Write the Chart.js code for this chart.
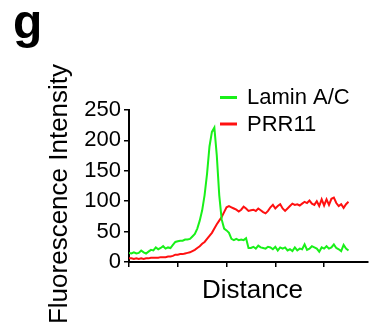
<!DOCTYPE html>
<html>
<head>
<meta charset="utf-8">
<script src="https://cdn.jsdelivr.net/npm/chart.js@4"></script>
<style>
html,body{margin:0;padding:0;background:#fff;}
#wrap{width:369px;height:327px;position:relative;}
</style>
</head>
<body>
<div id="wrap"><canvas id="c" width="369" height="327"></canvas></div>
<script>
const panelLabel = "g";
const xTitle = "Distance";
const yTitle = "Fluorescence Intensity";
const seriesNames = ["Lamin A/C", "PRR11"];
const yTicks = [0, 50, 100, 150, 200, 250];
const xTicks = [0, 1, 2, 3, 4];

const distance = [0,0.05,0.1,0.15,0.2,0.25,0.3,0.35,0.4,0.45,0.5,0.55,0.6,0.65,0.7,0.75,0.8,0.85,0.9,0.95,
1,1.05,1.1,1.15,1.2,1.25,1.3,1.35,1.4,1.45,1.5,1.55,1.6,1.65,1.7,1.75,1.8,1.85,1.9,1.95,
2,2.05,2.1,2.15,2.2,2.25,2.3,2.35,2.4,2.45,2.5,2.55,2.6,2.65,2.7,2.75,2.8,2.85,2.9,2.95,
3,3.05,3.1,3.15,3.2,3.25,3.3,3.35,3.4,3.45,3.5,3.55,3.6,3.65,3.7,3.75,3.8,3.85,3.9,3.95,
4,4.05,4.1,4.15,4.2,4.25,4.3,4.35,4.4,4.45,4.5];

const laminAC = [15,14,16,14,15,19,16,14,17,20,19,24,21,23,26,22,24,23,28,33,
34,35,35,37,37,38,42,46,55,68,85,110,145,190,214,221,175,110,70,55,
52,48,38,36,38,36,37,36,39,23,23,25,22,27,24,23,22,25,24,21,
25,19,24,22,24,19,21,18,24,19,22,21,29,20,22,26,24,22,17,24,
22,26,22,24,29,23,21,18,28,22,19];

const prr11 = [6,6,5,6,5,6,5,6,6,7,7,7,7,8,8,8,9,9,10,12,
12,13,13,14,15,16,18,20,23,26,30,33,38,43,48,55,62,68,74,82,
90,92,90,88,86,83,86,91,88,84,85,86,84,88,85,82,80,84,90,94,
88,92,95,88,84,88,92,96,94,95,93,96,99,97,101,96,94,100,92,103,
93,103,94,104,106,97,92,95,89,95,99];

const colors = ["#19f019", "#ff1010"];

function pts(xs, ys){ return xs.map((x,i)=>({x:x, y:ys[i]})); }

const FONT = "'Liberation Sans', Arial, sans-serif";

const customText = {
  id: 'customText',
  afterDraw(chart){
    const ctx = chart.ctx;
    const ca = chart.chartArea;
    ctx.save();
    ctx.fillStyle = '#000';
    // panel label
    ctx.font = "bold 48px " + FONT;
    ctx.textAlign = 'left';
    ctx.textBaseline = 'alphabetic';
    ctx.fillText(panelLabel, 13, 37.5);
    // x title
    ctx.font = "26px " + FONT;
    ctx.textAlign = 'center';
    ctx.fillText(xTitle, (ca.left + ca.right)/2 + 4, 297.5);
    // y title
    ctx.save();
    ctx.translate(66.5, 194);
    ctx.rotate(-Math.PI/2);
    ctx.textAlign = 'center';
    ctx.textBaseline = 'alphabetic';
    ctx.fillText(yTitle, 0, 0);
    ctx.restore();
    // legend
    const rows = [97.5, 124];
    ctx.font = "22px " + FONT;
    ctx.textAlign = 'left';
    chart.data.datasets.forEach((ds, i) => {
      ctx.strokeStyle = ds.borderColor;
      ctx.lineWidth = 3;
      ctx.beginPath();
      ctx.moveTo(220, rows[i]);
      ctx.lineTo(237, rows[i]);
      ctx.stroke();
      ctx.fillStyle = '#000';
      ctx.fillText(ds.label, 247, rows[i] + 6.5);
    });
    ctx.restore();
  }
};

new Chart(document.getElementById('c'), {
  type: 'line',
  data: {
    datasets: [
      { label: seriesNames[0], data: pts(distance, laminAC), borderColor: colors[0], borderWidth: 2, pointRadius: 0, tension: 0, fill: false },
      { label: seriesNames[1], data: pts(distance, prr11), borderColor: colors[1], borderWidth: 2, pointRadius: 0, tension: 0, fill: false }
    ]
  },
  options: {
    responsive: false,
    animation: false,
    layout: { padding: { top: 110, right: 1, left: 0, bottom: 0 } },
    plugins: { legend: { display: false }, tooltip: { enabled: false } },
    scales: {
      x: {
        type: 'linear', min: 0, max: 4.9,
        afterBuildTicks: (s) => { s.ticks = xTicks.map(v => ({value: v})); },
        afterFit: (s) => { s.height = 65; },
        ticks: { callback: () => '', font: { size: 1 } },
        grid: { drawOnChartArea: false, drawTicks: true, tickLength: 5, color: '#000', lineWidth: 1.5 },
        border: { color: '#000', width: 2 }
      },
      y: {
        min: 0, max: 250,
        afterBuildTicks: (s) => { s.ticks = yTicks.map(v => ({value: v})); },
        afterFit: (s) => { s.width = 129; },
        ticks: { color: '#000', font: { size: 22, family: FONT }, padding: 3 },
        grid: { drawOnChartArea: false, drawTicks: true, tickLength: 5, color: '#000', lineWidth: 1.5 },
        border: { color: '#000', width: 2 }
      }
    }
  },
  plugins: [customText]
});
</script>
</body>
</html>
